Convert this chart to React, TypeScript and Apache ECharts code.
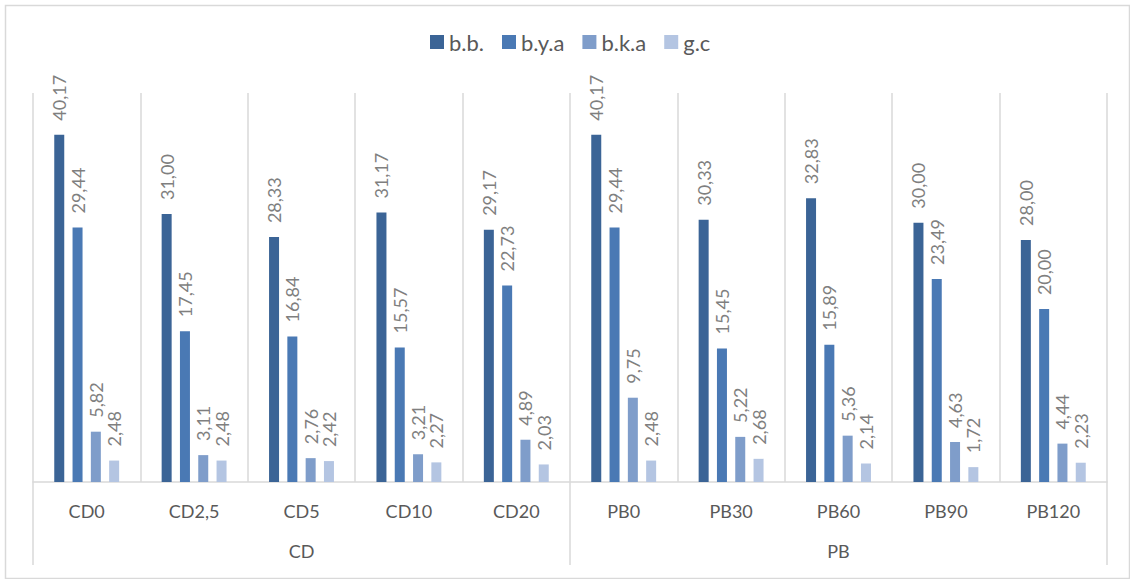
import { useEffect, useRef } from "react";
import * as echarts from "echarts";

// Categories (two-level axis: sample code, then group)
const categories = ["CD0", "CD2,5", "CD5", "CD10", "CD20", "PB0", "PB30", "PB60", "PB90", "PB120"];
const groups = ["CD", "PB"];

// Series
const seriesNames = ["b.b.", "b.y.a", "b.k.a", "g.c"];
const bb = [40.17, 31.0, 28.33, 31.17, 29.17, 40.17, 30.33, 32.83, 30.0, 28.0];
const bya = [29.44, 17.45, 16.84, 15.57, 22.73, 29.44, 15.45, 15.89, 23.49, 20.0];
const bka = [5.82, 3.11, 2.76, 3.21, 4.89, 9.75, 5.22, 5.36, 4.63, 4.44];
const gc = [2.48, 2.48, 2.42, 2.27, 2.03, 2.48, 2.68, 2.14, 1.72, 2.23];
const seriesValues = [bb, bya, bka, gc];
const colors = ["#3B6496", "#4A79B4", "#7F9DCA", "#B4C5E2"];

const FONT = "Lato, 'Noto Sans', sans-serif";
const GRID_LINE = "#D9D9D9";

const fmt = (v: number) => v.toFixed(2).replace(".", ",");

export default function App() {
  const ref = useRef<HTMLDivElement>(null);

  useEffect(() => {
    if (!ref.current) return;
    const chart = echarts.init(ref.current, undefined, { renderer: "svg" });

    chart.setOption({
      animation: false,
      backgroundColor: "#FFFFFF",
      textStyle: { fontFamily: FONT },
      color: colors,
      legend: {
        top: 26,
        left: 425,
        icon: "rect",
        itemWidth: 14,
        itemHeight: 14,
        itemGap: 18,
        textStyle: { fontSize: 22, color: "#595959", fontFamily: FONT },
        data: seriesNames,
      },
      grid: { left: 33, right: 23, top: 93, bottom: 97 },
      graphic: [
        {
          type: "rect",
          left: 3,
          top: 3,
          shape: { width: 1124, height: 573 },
          style: { fill: "none", stroke: GRID_LINE, lineWidth: 1.5 },
          silent: true,
        },
      ],
      xAxis: [
        {
          type: "category",
          data: categories,
          position: "bottom",
          axisLine: { show: true, lineStyle: { color: GRID_LINE, width: 1.5 } },
          axisTick: { show: false },
          splitLine: { show: true, interval: 0, lineStyle: { color: GRID_LINE, width: 1.5 } },
          axisLabel: { interval: 0, margin: 20, fontSize: 18, color: "#595959", fontFamily: FONT },
        },
        {
          type: "category",
          data: groups,
          position: "bottom",
          axisLine: { show: false },
          axisTick: { show: true, length: 83, interval: 0, lineStyle: { color: GRID_LINE, width: 1.5 } },
          splitLine: { show: false },
          axisLabel: { interval: 0, margin: 60, fontSize: 18, color: "#595959", fontFamily: FONT },
        },
      ],
      yAxis: {
        type: "value",
        min: 0,
        max: 45,
        show: false,
        splitLine: { show: false },
      },
      series: seriesNames.map((name, i) => ({
        name,
        type: "bar",
        xAxisIndex: 0,
        data: seriesValues[i],
        barWidth: 10,
        barGap: "83%",
        itemStyle: { color: colors[i] },
        label: {
          show: true,
          position: "top",
          rotate: 90,
          align: "left",
          verticalAlign: "middle",
          distance: 14,
          fontSize: 18,
          color: "#7F7F7F",
          fontFamily: FONT,
          formatter: (p: any) => fmt(p.value as number),
        },
      })),
    });

    return () => chart.dispose();
  }, []);

  return (
    <div
      ref={ref}
      style={{ position: "fixed", left: 0, top: 0, width: 1130, height: 579 }}
    />
  );
}
